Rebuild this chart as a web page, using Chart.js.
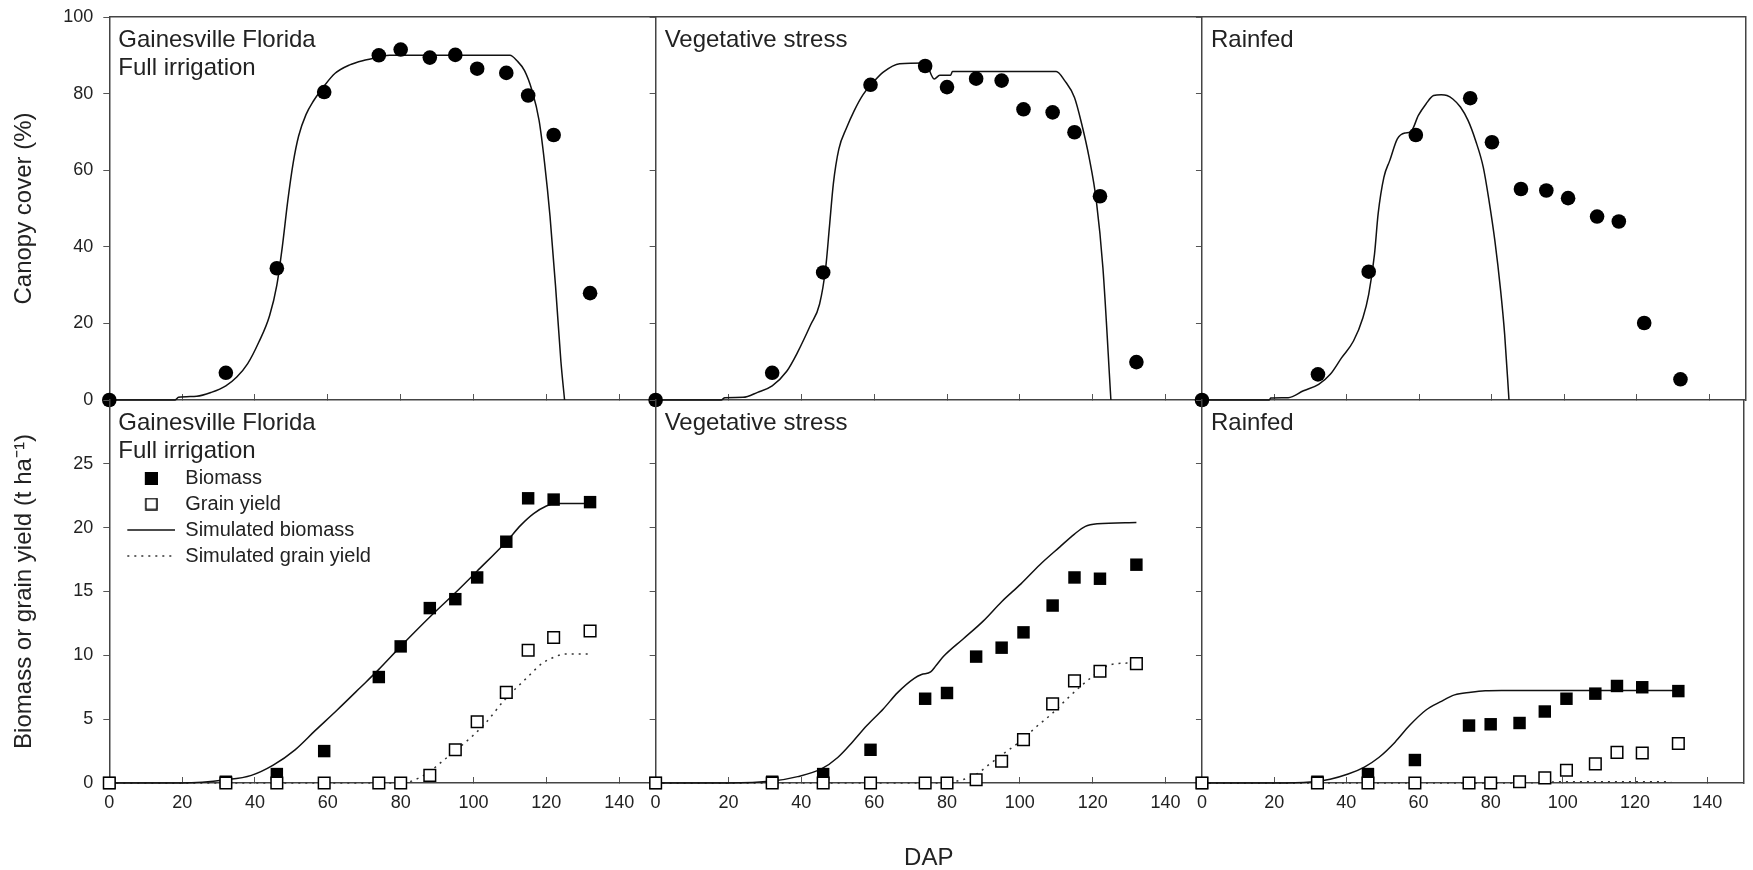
<!DOCTYPE html>
<html lang="en">
<head>
<meta charset="UTF-8">
<title>Canopy cover and biomass - Gainesville Florida</title>
<script src="https://cdn.jsdelivr.net/npm/chart.js"></script>
<style>
  html, body { margin: 0; background: #fff; }
  #wrap { position: relative; width: 1753px; height: 870px; }
  #wrap canvas { position: absolute; left: 0; top: 0; }
</style>
</head>
<body>
<div id="wrap"></div>

<script>
// sampling days (DAP) of the field measurements
const obsDap = [0, 32, 46, 59, 74, 80, 88, 95, 101, 109, 115, 122, 132];

// measured canopy cover (%)
const ccFull = [0, 7.1, 34.4, 80.4, 90, 91.5, 89.4, 90.1, 86.5, 85.4, 79.5, 69.2, 27.9];
const ccVeg  = [0, 7.1, 33.3, 82.3, 87.2, 81.7, 83.9, 83.4, 75.9, 75.1, 69.9, 53.2, 9.9];
const ccRain = [0, 6.7, 33.5, 69.2, 78.8, 67.3, 55.1, 54.7, 52.7, 47.9, 46.6, 20.1, 5.4];

// measured biomass and grain yield (t/ha)
const bioFull   = [0, 0.1, 0.7, 2.5, 8.3, 10.7, 13.7, 14.4, 16.1, 18.9, 22.3, 22.2, 22.0];
const bioVeg    = [0, 0.1, 0.7, 2.6, 6.6, 7.05, 9.9, 10.6, 11.8, 13.9, 16.1, 16.0, 17.1];
const bioRain   = [0, 0.1, 0.7, 1.8, 4.5, 4.6, 4.7, 5.6, 6.6, 7.0, 7.6, 7.5, 7.2];
const grainFull = [0, 0, 0, 0, 0, 0, 0.6, 2.6, 4.8, 7.1, 10.4, 11.4, 11.9];
const grainVeg  = [0, 0, 0, 0, 0, 0, 0.26, 1.7, 3.4, 6.2, 8.0, 8.75, 9.35];
const grainRain = [0, 0, 0, 0, 0, 0, 0.1, 0.4, 1.0, 1.5, 2.4, 2.35, 3.1];

// simulated canopy cover
const ccSimFullDap = [0, 18, 19, 24, 28, 32, 35, 38, 41, 44, 46, 47.5, 49, 50.5, 52, 54, 56, 59, 62, 66, 70, 74, 77, 110, 112, 114, 116, 118, 119.5, 121, 122.5, 124, 125];
const ccSimFull    = [0, 0, 0.7, 1, 2, 3.7, 6, 9.5, 15, 22, 30, 40, 52, 62, 69, 74.5, 78, 82, 85.3, 87.5, 88.7, 89.5, 90, 90, 88.5, 86, 81, 73, 62, 48, 30, 10, 0];
const ccSimVegDap  = [0, 18, 19, 24, 28, 32, 36, 39, 42.5, 45, 46.7, 47.7, 48.8, 50.3, 52.4, 54.5, 57, 59.5, 62.5, 67, 74, 76.5, 78, 81, 81.5, 110, 112.3, 115, 117, 119, 121, 122.8, 125];
const ccSimVeg     = [0, 0, 0.6, 0.7, 2, 3.7, 7.5, 12.5, 19.5, 25, 34.6, 45, 56.5, 65.5, 71, 75.5, 79.8, 82.7, 85.6, 87.8, 88, 83.8, 84.8, 84.8, 85.8, 85.8, 83.4, 79, 72, 63.4, 52, 34.6, 0];
const ccSimRainDap = [0, 18.5, 19, 23.8, 28, 32.2, 35.4, 38.5, 41.8, 44.4, 46, 47.6, 48.6, 50.2, 51.8, 53.9, 56, 57.6, 59.7, 61.8, 63.9, 66, 67.6, 69.2, 71.3, 73.4, 75.5, 77.6, 79.2, 80.8, 82.4, 83.5, 84.7];
const ccSimRain    = [0, 0, 0.5, 0.6, 2.4, 4.1, 6.7, 11, 15.4, 21.5, 27.6, 38.1, 48.6, 58.2, 62.5, 68.2, 69.7, 70, 74.3, 77.3, 79.5, 79.7, 79.5, 78.6, 76.5, 73, 67.7, 60.8, 52, 41.6, 28.5, 17.2, 0];

// simulated biomass and grain yield
const bioSimFullDap   = [0, 20, 32, 39, 45, 51, 56.5, 62.5, 69, 74, 80, 88, 95, 101, 109, 113, 116.5, 120, 122.5, 132];
const bioSimFull      = [0, 0, 0.25, 0.6, 1.4, 2.6, 4.1, 5.7, 7.5, 8.9, 10.7, 13.0, 14.9, 16.6, 18.9, 20.2, 21.1, 21.7, 21.9, 21.9];
const grainSimFullDap = [0, 80, 83, 88, 91, 97, 103, 108.5, 114.5, 119, 122.5, 125, 132];
const grainSimFull    = [0, 0, 0.15, 0.9, 1.6, 3, 4.6, 6.5, 8.2, 9.4, 9.9, 10.1, 10.1];
const bioSimVegDap    = [0, 20, 32, 39, 45.5, 50, 54, 58, 62.5, 66.5, 71, 73, 75.5, 77, 79, 84.5, 90, 95, 100.3, 105.5, 111, 115, 118, 121.3, 132];
const bioSimVeg       = [0, 0, 0.15, 0.5, 1.1, 2.0, 3.2, 4.5, 5.8, 7.1, 8.2, 8.5, 8.7, 9.2, 9.9, 11.3, 12.7, 14.2, 15.6, 17.1, 18.5, 19.5, 20.1, 20.3, 20.4];
const grainSimVegDap  = [0, 80, 83.4, 87.6, 91.8, 96, 100.3, 104.5, 108.7, 113, 117, 120.2, 123.4, 126.5, 132];
const grainSimVeg     = [0, 0, 0.2, 0.6, 1.5, 2.4, 3.3, 4.4, 5.4, 6.6, 7.65, 8.4, 9.1, 9.35, 9.4];
const bioSimRainDap   = [0, 20, 30, 35.5, 40.5, 45, 49, 53.5, 57.5, 62, 66, 70, 74.5, 78.5, 83, 132];
const bioSimRain      = [0, 0, 0.08, 0.3, 0.7, 1.25, 2.0, 3.2, 4.5, 5.7, 6.35, 6.9, 7.1, 7.22, 7.25, 7.25];
const grainSimRainDap = [0, 88, 95, 100, 110, 120, 130];
const grainSimRain    = [0, 0, 0.05, 0.1, 0.1, 0.1, 0.1];

// axis ticks and labels
const dapMax = 150, dapStep = 20;
const ccMax = 100, ccStep = 20;
const yieldMax = 30, yieldStep = 5;
const panelLabels = [['Gainesville Florida', 'Full irrigation'], ['Vegetative stress'], ['Rainfed']];
const legendLabels = ['Biomass', 'Grain yield', 'Simulated biomass', 'Simulated grain yield'];

const ccObs = [ccFull, ccVeg, ccRain];
const ccSim = [[ccSimFullDap, ccSimFull], [ccSimVegDap, ccSimVeg], [ccSimRainDap, ccSimRain]];
const bioObs = [bioFull, bioVeg, bioRain];
const grainObs = [grainFull, grainVeg, grainRain];
const bioSim = [[bioSimFullDap, bioSimFull], [bioSimVegDap, bioSimVeg], [bioSimRainDap, bioSimRain]];
const grainSim = [[grainSimFullDap, grainSimFull], [grainSimVegDap, grainSimVeg], [grainSimRainDap, grainSimRain]];

// page geometry
const W = 1753, H = 870;
const plotLeft = 109.3, panelW = 546.33, plotTop = 17, panelH = 383;
const ink = '#111', axisCol = '#444', textCol = '#222';

Chart.defaults.font.family = '"Liberation Sans", Arial, sans-serif';
Chart.defaults.color = textCol;

function pts(xs, ys) {
  return xs.map((x, i) => ({ x: x, y: ys[i] }));
}

// glyph canvas, drawn with a transparent strip on the left so it sits a bit right of the box centre
function symbol(w, h, draw) {
  const shift = 12;
  const c = document.createElement('canvas');
  c.width = w + shift; c.height = h;
  const g = c.getContext('2d');
  g.translate(shift, 0);
  draw(g);
  return c;
}

// little legend glyphs
const legendGlyphs = [
  symbol(13, 13, g => { g.fillStyle = '#000'; g.fillRect(0, 0, 13, 13); }),
  symbol(13, 13, g => { g.strokeStyle = '#000'; g.lineWidth = 1.5; g.strokeRect(1, 1, 11, 11); }),
  symbol(48, 4, g => { g.strokeStyle = ink; g.lineWidth = 1.5; g.beginPath(); g.moveTo(0, 2); g.lineTo(48, 2); g.stroke(); }),
  symbol(48, 4, g => { g.strokeStyle = '#333'; g.lineWidth = 1.5; g.setLineDash([2, 5]); g.beginPath(); g.moveTo(0, 2); g.lineTo(48, 2); g.stroke(); })
];

// panel captions inside the plot area
const panelText = {
  id: 'panelText',
  afterDraw(chart, args, opts) {
    const { ctx, chartArea } = chart;
    ctx.save();
    ctx.font = '24px "Liberation Sans", Arial, sans-serif';
    ctx.fillStyle = textCol;
    ctx.textBaseline = 'middle';
    opts.lines.forEach((t, i) => ctx.fillText(t, chartArea.left + 9, chartArea.top + 23 + i * 28));
    ctx.restore();
  }
};

// a 'chartArea' legend gets top = 0, pin it to the plot top instead
const legendInside = {
  id: 'legendInside',
  afterLayout(chart) {
    const lg = chart.legend;
    if (lg && lg.options.display) {
      const h = lg.height;
      lg.top = chart.chartArea.top;
      lg.bottom = lg.top + h;
    }
  }
};

function makeChart(row, col) {
  const canvas = document.createElement('canvas');
  canvas.width = W; canvas.height = H;
  document.getElementById('wrap').appendChild(canvas);

  const left = plotLeft + panelW * col;
  const right = left + panelW;
  const top = plotTop + panelH * row;
  const bottom = top + panelH;
  const yW = col === 0 ? 100 : 8;
  const xH = row === 1 ? 87 : 8;

  let datasets;
  if (row === 0) {
    datasets = [
      {
        data: pts(obsDap, ccObs[col]),
        pointStyle: 'circle', pointRadius: 7.3, backgroundColor: '#000', borderWidth: 0,
        clip: false
      },
      {
        data: pts(ccSim[col][0], ccSim[col][1]),
        showLine: true, pointRadius: 0, borderColor: ink, borderWidth: 1.5,
        cubicInterpolationMode: 'monotone', clip: false
      }
    ];
  } else {
    datasets = [
      {
        data: pts(obsDap, grainObs[col]),
        pointStyle: 'rect', pointRadius: 8.2, backgroundColor: '#fff', borderColor: '#000', borderWidth: 1.5,
        clip: false
      },
      {
        data: pts(obsDap, bioObs[col]),
        pointStyle: 'rect', pointRadius: 8.8, backgroundColor: '#000', borderWidth: 0,
        clip: false
      },
      {
        data: pts(bioSim[col][0], bioSim[col][1]),
        showLine: true, pointRadius: 0, borderColor: ink, borderWidth: 1.5,
        cubicInterpolationMode: 'monotone', clip: false
      },
      {
        data: pts(grainSim[col][0], grainSim[col][1]),
        showLine: true, pointRadius: 0, borderColor: '#333', borderWidth: 1.5, borderDash: [2, 5],
        cubicInterpolationMode: 'monotone', clip: false
      }
    ];
  }

  const showLegend = row === 1 && col === 0;

  return new Chart(canvas, {
    type: 'scatter',
    data: { datasets: datasets },
    plugins: [panelText, legendInside],
    options: {
      responsive: false,
      animation: false,
      devicePixelRatio: 1,
      events: [],
      layout: {
        padding: { left: left - yW, right: W - right, top: top, bottom: H - bottom - xH }
      },
      scales: {
        x: {
          type: 'linear', position: 'bottom', min: 0, max: dapMax,
          ticks: { stepSize: dapStep, includeBounds: false, display: row === 1, padding: 15, font: { size: 18 } },
          grid: { drawOnChartArea: false, tickLength: -6, color: '#555' },
          border: { color: axisCol, width: 1.5 },
          title: {
            display: row === 1 && col === 1, text: 'DAP',
            font: { size: 24, lineHeight: 1.0 }, padding: { top: 0, bottom: 0 }
          },
          afterFit: s => { s.height = xH; s.paddingLeft = 0; s.paddingRight = 0; }
        },
        y: {
          type: 'linear', position: 'left', min: 0, max: row === 0 ? ccMax : yieldMax,
          ticks: {
            stepSize: row === 0 ? ccStep : yieldStep, display: col === 0, padding: 10, font: { size: 18 },
            callback: v => (row === 1 && v === yieldMax) ? '' : v
          },
          grid: { drawOnChartArea: false, tickLength: 6, color: '#555' },
          border: { color: axisCol, width: 1.5 },
          title: {
            display: col === 0,
            text: row === 0 ? 'Canopy cover (%)' : 'Biomass or grain yield (t ha\u207B\u00B9)',
            font: { size: 24 }, padding: { top: 1, bottom: 0 }
          },
          afterFit: s => { s.width = yW; s.paddingTop = 0; s.paddingBottom = 0; }
        },
        xTop: {
          type: 'linear', position: 'top', display: row === 0, min: 0, max: dapMax,
          ticks: { display: false }, grid: { display: false },
          border: { color: axisCol, width: 1.5 },
          afterFit: s => { s.height = 0; s.paddingLeft = 0; s.paddingRight = 0; }
        },
        yRight: {
          type: 'linear', position: 'right', display: col === 2, min: 0, max: 1,
          ticks: { display: false }, grid: { display: false },
          border: { color: axisCol, width: 1.5 },
          afterFit: s => { s.width = 0; s.paddingTop = 0; s.paddingBottom = 0; }
        }
      },
      plugins: {
        tooltip: { enabled: false },
        panelText: { lines: panelLabels[col] },
        legend: {
          display: showLegend,
          position: 'chartArea',
          align: 'start',
          title: { display: true, text: '', padding: { top: 38, bottom: 0 }, font: { size: 20 } },
          labels: {
            usePointStyle: true,
            pointStyleWidth: 60,
            padding: 6,
            font: { size: 20 },
            color: textCol,
            generateLabels: () => legendLabels.map((t, i) => ({
              text: t, pointStyle: legendGlyphs[i], fillStyle: '#000', strokeStyle: '#000',
              lineWidth: 0, hidden: false, datasetIndex: i, fontColor: textCol
            }))
          }
        }
      }
    }
  });
}

const charts = [];
for (let r = 0; r < 2; r++) {
  for (let c = 0; c < 3; c++) charts.push(makeChart(r, c));
}
</script>
</body>
</html>
